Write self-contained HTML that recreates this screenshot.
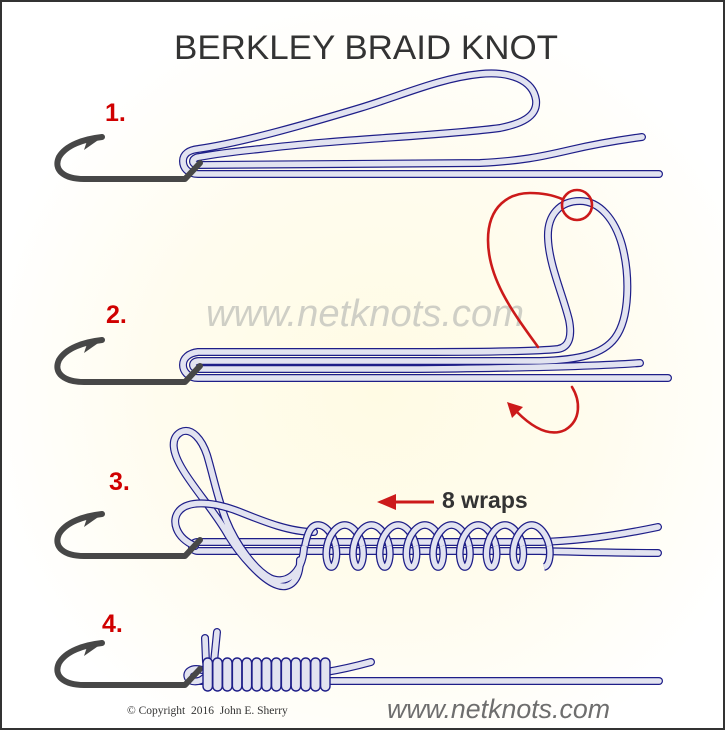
<!DOCTYPE html>
<html>
<head>
<meta charset="utf-8">
<style>
html,body{margin:0;padding:0;background:#fff;}
svg{display:block;}
.o{fill:none;stroke:#1e1e88;stroke-width:8;stroke-linecap:round;stroke-linejoin:round}
.i{fill:none;stroke:#e2e3f0;stroke-width:5.6;stroke-linecap:round;stroke-linejoin:round}
.wo{fill:none;stroke:#1e1e88;stroke-width:7.8;stroke-linecap:butt}
.wi{fill:none;stroke:#e2e3f0;stroke-width:5.2;stroke-linecap:butt}
.rd{fill:none;stroke:#cc1a1a;stroke-width:2.6;stroke-linecap:round}
</style>
</head>
<body>
<svg width="728" height="731" viewBox="0 0 728 731" xmlns="http://www.w3.org/2000/svg" xmlns:xlink="http://www.w3.org/1999/xlink">
<defs>
  <radialGradient id="bg" cx="380" cy="390" r="400" gradientUnits="userSpaceOnUse">
    <stop offset="0" stop-color="#fffbe4"/>
    <stop offset="0.55" stop-color="#fffcee"/>
    <stop offset="1" stop-color="#ffffff"/>
  </radialGradient>
  <g id="hook">
    <path d="M102,137 C84,139 66,145 59,157 C53,170 64,179 84,179 L185,179 L200,163" fill="none" stroke="#474747" stroke-width="6" stroke-linecap="round" stroke-linejoin="round"/>
    <polygon points="104,136 84,150 87,141" fill="#474747"/>
  </g>
  <path id="p1" d="M659,174 L198,174 C188,174 183,168 183,161 C183,154 189,150 198,149 C240,143 300,126 360,108 C400,96 440,78 480,74 C510,71 533,80 536,100 C538,117 520,124 500,128 C440,136 340,139 260,149 C230,152 210,155 199,157 C191,158 191,165 199,165 L480,163 C520,161 540,157 570,150 C600,143 620,140 642,137"/>
  <path id="p2" d="M668,378 L198,378 C188,378 183,371 183,365 C183,358 189,353 198,352 L420,352 C490,352 540,351 558,349 C570,347 572,335 569,320 C563,295 549,265 548,238 C547,215 560,201 580,201 C600,201 615,220 622,245 C630,275 630,318 615,338 C603,354 580,360 540,361 L199,361 C191,361 191,369 199,369 L420,369 C520,368 600,366 640,363"/>
  <path id="s3" d="M658,527 C620,535 580,541 540,542 L198,542 C190,542 190,551 198,551 L540,551 C580,552 620,553 658,553"/>
  <path id="t3" d="M300,560 C300,580 290,590 277,585 C262,580 240,555 228,535 C215,512 195,490 183,470 C172,452 170,438 181,432 C192,427 202,440 207,455 C213,475 218,500 226,520 C236,545 255,570 270,578 C285,585 302,575 304,548"/>
  <path id="ov3" d="M314,532 C290,532 265,522 240,512 C215,502 190,500 180,510 C170,520 176,538 195,546"/>
  <path id="ws" d="M304.9,546 C307.13,535 310.02,525 318,525 C325.98,525 333.45,535 335.68,546"/>
  <path id="wp" d="M17.68,546 C19.91,557 16.88,567 13.35,567 C9.82,567 6.8,557 9.03,546 C11.26,535 18.72,525 26.7,525 C34.68,525 42.15,535 44.38,546"/>
  <path id="we" d="M549.3,546 C551,556 549,566 544,567"/>
  <path id="m4" d="M659,681 L200,681"/>
  <path id="tg4" d="M326,672 C345,669 360,665 371,662"/>
  <path id="u4a" d="M206,662 L205,638"/>
  <path id="u4b" d="M214,662 L217,632"/>
  <path id="lp4" d="M202,670 C192,667 185,672 188,678 C191,683 200,682 204,678"/>
</defs>

<rect width="728" height="731" fill="#ffffff"/>
<rect x="1" y="1" width="723" height="728" fill="url(#bg)" stroke="#333" stroke-width="2"/>

<!-- Title -->
<text x="174" y="59" font-family="'Liberation Sans', Arial, sans-serif" font-size="34.5" fill="#333" textLength="384" lengthAdjust="spacingAndGlyphs">BERKLEY BRAID KNOT</text>

<!-- Watermark -->
<text x="206" y="326" font-family="'Liberation Sans', Arial, sans-serif" font-style="italic" font-size="38" fill="#cfcfc6" textLength="318" lengthAdjust="spacingAndGlyphs">www.netknots.com</text>

<!-- Step labels -->
<g font-family="'Liberation Sans', Arial, sans-serif" font-weight="bold" font-size="25" fill="#d00000">
  <text x="105" y="121">1.</text>
  <text x="106" y="323">2.</text>
  <text x="109" y="490">3.</text>
  <text x="102" y="632">4.</text>
</g>

<!-- STEP 1 -->
<use xlink:href="#p1" href="#p1" class="o"/>
<use xlink:href="#p1" href="#p1" class="i"/>
<use xlink:href="#hook" href="#hook"/>

<!-- STEP 2 -->
<use xlink:href="#p2" href="#p2" class="o"/>
<use xlink:href="#p2" href="#p2" class="i"/>
<use xlink:href="#hook" href="#hook" y="203"/>
<path class="rd" d="M538,347 C515,315 488,280 488,240 C488,205 510,193 530,193 C545,193 555,196 562,199"/>
<circle cx="577" cy="205" r="15" class="rd"/>
<path class="rd" d="M572,387 C580,400 582,420 565,430 C548,438 530,425 517,412"/>
<polygon points="507,402 523,407 512,418" fill="#cc1a1a"/>

<!-- STEP 3 -->
<use xlink:href="#s3" href="#s3" class="o"/>
<use xlink:href="#s3" href="#s3" class="i"/>
<use xlink:href="#t3" href="#t3" class="o"/>
<use xlink:href="#t3" href="#t3" class="i"/>
<use xlink:href="#ov3" href="#ov3" class="o"/>
<use xlink:href="#ov3" href="#ov3" class="i"/>
<use xlink:href="#hook" href="#hook" y="377"/>
<use xlink:href="#ws" href="#ws" class="wo"/>
<use xlink:href="#ws" href="#ws" class="wi"/>
<use xlink:href="#wp" href="#wp" x="318" class="wo"/><use xlink:href="#wp" href="#wp" x="318" class="wi"/>
<use xlink:href="#wp" href="#wp" x="344.7" class="wo"/><use xlink:href="#wp" href="#wp" x="344.7" class="wi"/>
<use xlink:href="#wp" href="#wp" x="371.4" class="wo"/><use xlink:href="#wp" href="#wp" x="371.4" class="wi"/>
<use xlink:href="#wp" href="#wp" x="398.1" class="wo"/><use xlink:href="#wp" href="#wp" x="398.1" class="wi"/>
<use xlink:href="#wp" href="#wp" x="424.8" class="wo"/><use xlink:href="#wp" href="#wp" x="424.8" class="wi"/>
<use xlink:href="#wp" href="#wp" x="451.5" class="wo"/><use xlink:href="#wp" href="#wp" x="451.5" class="wi"/>
<use xlink:href="#wp" href="#wp" x="478.2" class="wo"/><use xlink:href="#wp" href="#wp" x="478.2" class="wi"/>
<use xlink:href="#wp" href="#wp" x="504.9" class="wo"/><use xlink:href="#wp" href="#wp" x="504.9" class="wi"/>
<use xlink:href="#we" href="#we" class="wo"/><use xlink:href="#we" href="#we" class="wi"/>

<!-- 8 wraps label -->
<line x1="434" y1="502" x2="392" y2="502" stroke="#cc1a1a" stroke-width="3"/>
<polygon points="377,502 396,494 396,510" fill="#cc1a1a"/>
<text x="442" y="508" font-family="'Liberation Sans', Arial, sans-serif" font-weight="bold" font-size="23" fill="#333">8 wraps</text>

<!-- STEP 4 -->
<use xlink:href="#m4" href="#m4" class="o"/>
<use xlink:href="#m4" href="#m4" class="i"/>
<use xlink:href="#tg4" href="#tg4" class="o"/>
<use xlink:href="#tg4" href="#tg4" class="i"/>
<use xlink:href="#u4a" href="#u4a" class="o"/>
<use xlink:href="#u4a" href="#u4a" class="i"/>
<use xlink:href="#u4b" href="#u4b" class="o"/>
<use xlink:href="#u4b" href="#u4b" class="i"/>
<use xlink:href="#lp4" href="#lp4" class="o"/>
<use xlink:href="#lp4" href="#lp4" class="i"/>
<use xlink:href="#hook" href="#hook" y="506"/>
<g fill="#e2e3f0" stroke="#1e1e88" stroke-width="1.4">
  <rect x="203" y="658" width="9.4" height="33" rx="4.7"/>
  <rect x="212.8" y="658" width="9.4" height="33" rx="4.7"/>
  <rect x="222.6" y="658" width="9.4" height="33" rx="4.7"/>
  <rect x="232.4" y="658" width="9.4" height="33" rx="4.7"/>
  <rect x="242.2" y="658" width="9.4" height="33" rx="4.7"/>
  <rect x="252" y="658" width="9.4" height="33" rx="4.7"/>
  <rect x="261.8" y="658" width="9.4" height="33" rx="4.7"/>
  <rect x="271.6" y="658" width="9.4" height="33" rx="4.7"/>
  <rect x="281.4" y="658" width="9.4" height="33" rx="4.7"/>
  <rect x="291.2" y="658" width="9.4" height="33" rx="4.7"/>
  <rect x="301" y="658" width="9.4" height="33" rx="4.7"/>
  <rect x="310.8" y="658" width="9.4" height="33" rx="4.7"/>
  <rect x="320.6" y="658" width="9.4" height="33" rx="4.7"/>
</g>

<!-- Footer -->
<text x="127" y="714" font-family="'Liberation Serif', 'Times New Roman', serif" font-size="11.5" fill="#333" style="white-space:pre" xml:space="preserve">© Copyright  2016  John E. Sherry</text>
<text x="387" y="718" font-family="'Liberation Sans', Arial, sans-serif" font-style="italic" font-size="26.5" fill="#6e6e6e" textLength="223" lengthAdjust="spacingAndGlyphs">www.netknots.com</text>
</svg>
</body>
</html>
